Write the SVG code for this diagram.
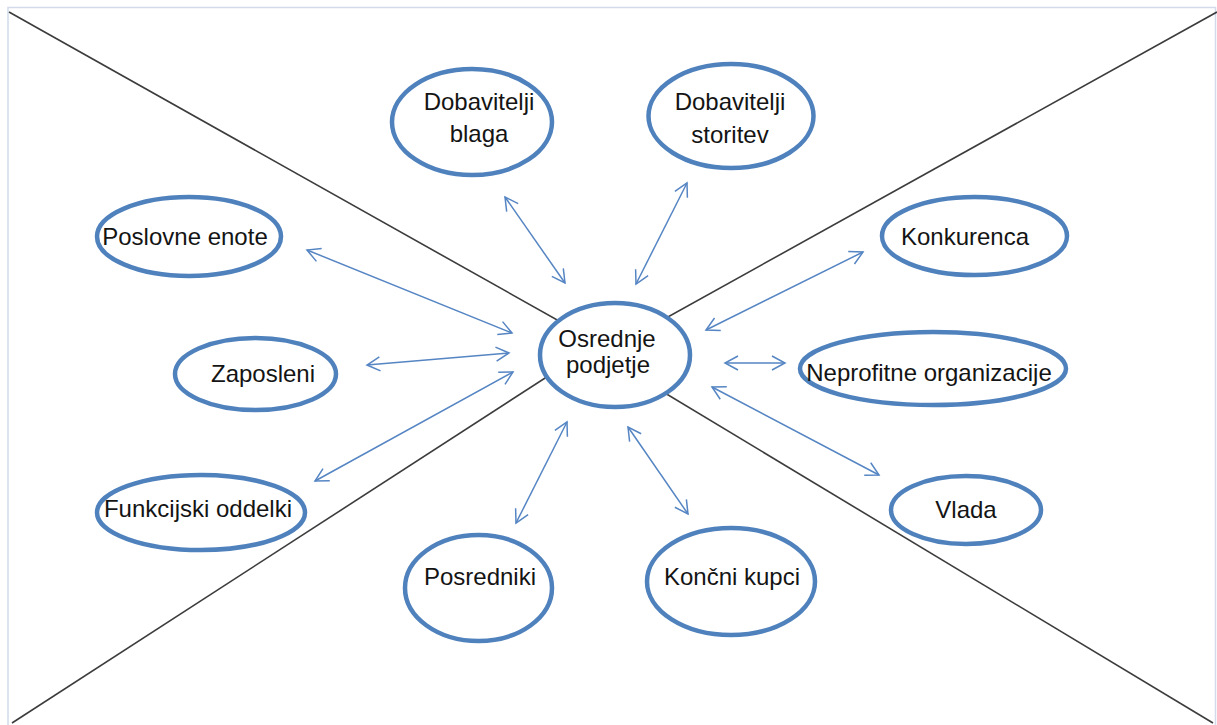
<svg xmlns="http://www.w3.org/2000/svg" width="1217" height="725" viewBox="0 0 1217 725">
  <style>
    .frame { fill: none; stroke: #d3dbea; stroke-width: 1.5; }
    .cross { stroke: #3c3c3c; stroke-width: 1.6; fill: none; }
    .node ellipse { fill: #ffffff; stroke: #4f81bd; stroke-width: 4.5; }
    .node text { font-family: "Liberation Sans", Arial, sans-serif; font-size: 24px; fill: #141414; text-anchor: middle; }
    .link { stroke: #5585c3; stroke-width: 1.5; fill: none; marker-start: url(#head); marker-end: url(#head); }
  </style>
  <defs>
    <marker id="head" markerUnits="userSpaceOnUse" markerWidth="20" markerHeight="20" refX="0" refY="0" viewBox="-16 -10 20 20" orient="auto-start-reverse" overflow="visible">
      <path d="M -13 -7 L 0 0 L -13 7" fill="none" stroke="#5585c3" stroke-width="1.5" stroke-linejoin="miter"/>
    </marker>
  </defs>

  <rect width="1217" height="725" fill="#ffffff"/>
  <!-- page frame: left, top and right edges -->
  <path class="frame" d="M 8 725 L 8 7.5 L 1215.5 7.5 L 1215.5 725"/>

  <!-- diagonal cross behind the central node -->
  <g id="cross">
    <line class="cross" x1="9" y1="12" x2="600" y2="344"/>
    <line class="cross" x1="1217" y1="12" x2="630" y2="338"/>
    <line class="cross" x1="12" y1="723" x2="590" y2="349"/>
    <line class="cross" x1="1213" y1="723" x2="630" y2="372"/>
  </g>

  <!-- two-way connectors -->
  <g id="connectors">
    <line class="link" x1="307" y1="250" x2="512" y2="333"/>
    <line class="link" x1="367" y1="365" x2="509" y2="353"/>
    <line class="link" x1="315" y1="481" x2="513" y2="372"/>
    <line class="link" x1="505" y1="197" x2="565" y2="283"/>
    <line class="link" x1="687" y1="183" x2="636" y2="284"/>
    <line class="link" x1="863" y1="252" x2="706" y2="330"/>
    <line class="link" x1="725" y1="363" x2="785" y2="363"/>
    <line class="link" x1="712" y1="387" x2="879" y2="475"/>
    <line class="link" x1="567" y1="422" x2="516" y2="523"/>
    <line class="link" x1="628" y1="427" x2="688" y2="514"/>
  </g>

  <g id="osrednje-podjetje" class="node">
    <ellipse cx="615" cy="355" rx="75" ry="52"/>
    <text x="607" y="347">Osrednje</text>
    <text x="608" y="373">podjetje</text>
  </g>

  <g id="dobavitelji-blaga" class="node">
    <ellipse cx="472" cy="122" rx="80" ry="53"/>
    <text x="479" y="110">Dobavitelji</text>
    <text x="479" y="142">blaga</text>
  </g>

  <g id="dobavitelji-storitev" class="node">
    <ellipse cx="731" cy="116" rx="82.5" ry="52"/>
    <text x="730" y="110">Dobavitelji</text>
    <text x="730" y="143">storitev</text>
  </g>

  <g id="poslovne-enote" class="node">
    <ellipse cx="189" cy="236.5" rx="92" ry="39.5"/>
    <text x="185" y="245">Poslovne enote</text>
  </g>

  <g id="konkurenca" class="node">
    <ellipse cx="974.5" cy="236" rx="92.5" ry="39"/>
    <text x="965" y="245">Konkurenca</text>
  </g>

  <g id="zaposleni" class="node">
    <ellipse cx="255.5" cy="374" rx="80.5" ry="36"/>
    <text x="263" y="382">Zaposleni</text>
  </g>

  <g id="neprofitne-organizacije" class="node">
    <ellipse cx="933" cy="368.5" rx="133" ry="36.5"/>
    <text x="929" y="381">Neprofitne organizacije</text>
  </g>

  <g id="funkcijski-oddelki" class="node">
    <ellipse cx="201" cy="512.5" rx="104" ry="37.5"/>
    <text x="198" y="517">Funkcijski oddelki</text>
  </g>

  <g id="vlada" class="node">
    <ellipse cx="966" cy="510" rx="75" ry="34"/>
    <text x="966" y="518">Vlada</text>
  </g>

  <g id="posredniki" class="node">
    <ellipse cx="478.5" cy="588" rx="73.5" ry="53"/>
    <text x="480" y="585">Posredniki</text>
  </g>

  <g id="koncni-kupci" class="node">
    <ellipse cx="731" cy="581.5" rx="84" ry="53.5"/>
    <text x="732" y="585">Končni kupci</text>
  </g>
</svg>
